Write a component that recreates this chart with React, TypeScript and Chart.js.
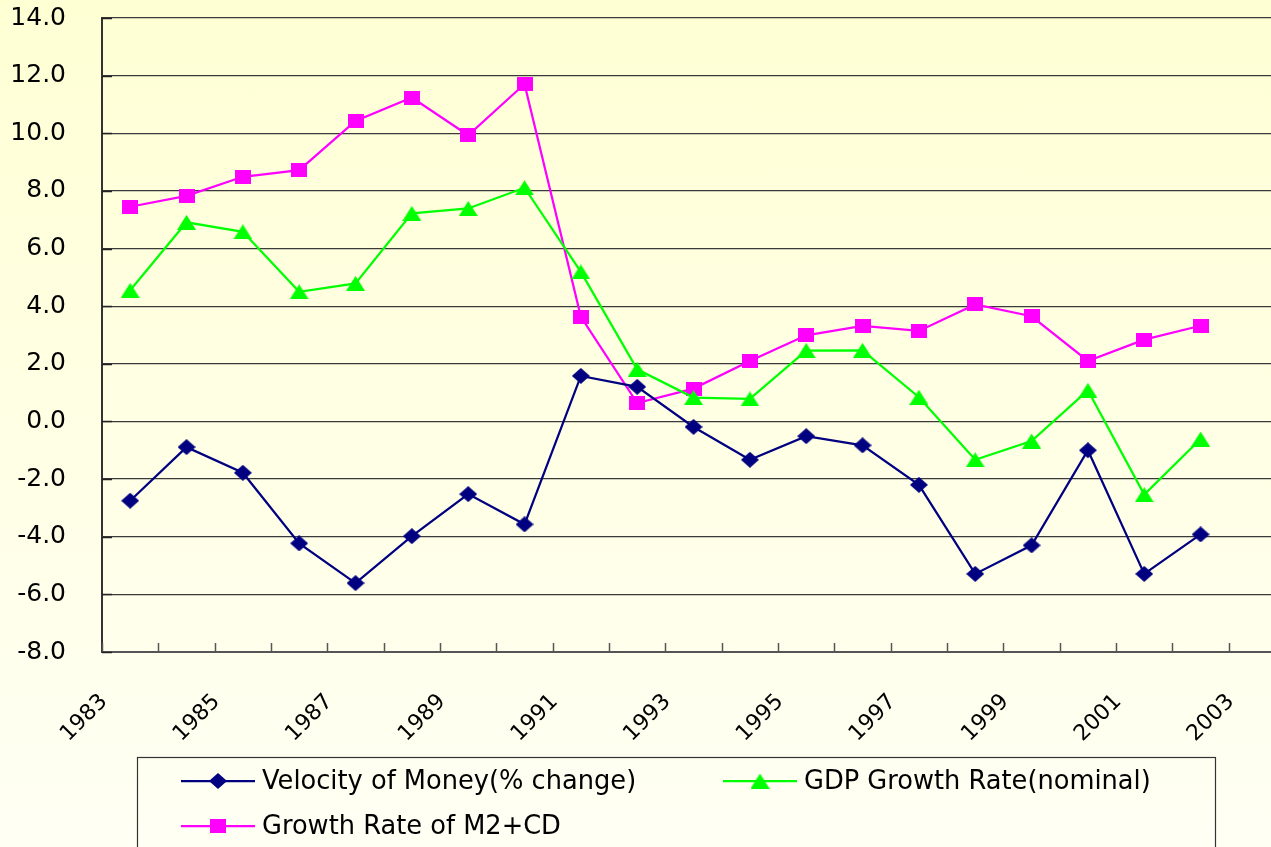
import React, { useEffect, useRef } from 'react';
import { Chart, registerables } from 'chart.js';

Chart.register(...registerables);

// ---- data ----
const years = [1983, 1984, 1985, 1986, 1987, 1988, 1989, 1990, 1991, 1992, 1993, 1994, 1995, 1996, 1997, 1998, 1999, 2000, 2001, 2002];
const velocity = [-2.75, -0.89, -1.78, -4.23, -5.61, -3.98, -2.52, -3.57, 1.58, 1.2, -0.19, -1.33, -0.51, -0.83, -2.2, -5.29, -4.3, -1.0, -5.29, -3.92];
const gdp = [4.55, 6.91, 6.58, 4.5, 4.79, 7.22, 7.39, 8.11, 5.19, 1.81, 0.83, 0.78, 2.46, 2.47, 0.84, -1.33, -0.68, 1.08, -2.54, -0.61];
const m2cd = [7.45, 7.83, 8.49, 8.72, 10.43, 11.24, 9.93, 11.71, 3.63, 0.64, 1.14, 2.1, 2.99, 3.32, 3.14, 4.06, 3.65, 2.1, 2.84, 3.32];
const xTickLabels = ['1983', '1985', '1987', '1989', '1991', '1993', '1995', '1997', '1999', '2001', '2003'];
const seriesNames = ['Velocity of Money(% change)', 'GDP Growth Rate(nominal)', 'Growth Rate of M2+CD'];
const seriesColors = ['#000080', '#00FF00', '#FF00FF'];

const FONT = '"DejaVu Sans", "Liberation Sans", Arial, sans-serif';

function makeMarker(kind: string, color: string): HTMLCanvasElement {
  const c = document.createElement('canvas');
  let w = 16, h = 14;
  if (kind === 'diamond') { w = 18; h = 16; }
  if (kind === 'triangle') { w = 19; h = 15; }
  c.width = w; c.height = h;
  const ctx = c.getContext('2d')!;
  ctx.fillStyle = color;
  ctx.beginPath();
  if (kind === 'diamond') {
    ctx.moveTo(w / 2, 0); ctx.lineTo(w, h / 2); ctx.lineTo(w / 2, h); ctx.lineTo(0, h / 2);
  } else if (kind === 'triangle') {
    ctx.moveTo(w / 2, 0); ctx.lineTo(w, h); ctx.lineTo(0, h);
  } else {
    ctx.rect(0, 0, w, h);
  }
  ctx.closePath();
  ctx.fill();
  return c;
}

const clearPadding = (s: any) => {
  s.paddingTop = 0;
  s.paddingBottom = 0;
  s.paddingLeft = 0;
  s.paddingRight = 0;
};

const innerTicks = {
  id: 'innerTicks',
  beforeDatasetsDraw(chart: any) {
    const { ctx, chartArea, scales } = chart;
    ctx.save();
    ctx.lineWidth = 1.5;
    ctx.strokeStyle = '#555';
    scales.x.ticks.forEach((t: any) => {
      const px = Math.round(scales.x.getPixelForValue(t.value)) + 0.5;
      ctx.beginPath();
      ctx.moveTo(px, chartArea.bottom);
      ctx.lineTo(px, chartArea.bottom - 9);
      ctx.stroke();
    });
    ctx.strokeStyle = '#222';
    scales.y.ticks.forEach((t: any) => {
      const py = Math.round(scales.y.getPixelForValue(t.value)) + 0.5;
      ctx.beginPath();
      ctx.moveTo(chartArea.left, py);
      ctx.lineTo(chartArea.left + 10, py);
      ctx.stroke();
    });
    ctx.restore();
  },
};

const boxLegend = {
  id: 'boxLegend',
  afterDraw(chart: any) {
    const ctx = chart.ctx;
    ctx.save();
    ctx.strokeStyle = '#333';
    ctx.lineWidth = 1.2;
    ctx.strokeRect(137.5, 757.5, 1078, 140);
    const slots = [[181, 781], [723, 781], [181, 826]];
    chart.data.datasets.forEach((ds: any, i: number) => {
      const [x, y] = slots[i];
      ctx.strokeStyle = ds.borderColor;
      ctx.lineWidth = 2.25;
      ctx.beginPath();
      ctx.moveTo(x, y);
      ctx.lineTo(x + 74, y);
      ctx.stroke();
      const m = ds.pointStyle as HTMLCanvasElement;
      ctx.drawImage(m, x + 37 - m.width / 2, y - m.height / 2);
      ctx.fillStyle = '#000';
      ctx.font = `25.7px ${FONT}`;
      ctx.textBaseline = 'middle';
      ctx.textAlign = 'left';
      ctx.fillText(ds.label, x + 81, y + 1);
    });
    ctx.restore();
  },
};

export default function App() {
  const ref = useRef<HTMLCanvasElement>(null);

  useEffect(() => {
    if (!ref.current) return;
    const markers = [
      makeMarker('diamond', seriesColors[0]),
      makeMarker('triangle', seriesColors[1]),
      makeMarker('square', seriesColors[2]),
    ];
    const series = [velocity, gdp, m2cd];
    const chart = new Chart(ref.current, {
      type: 'line',
      data: {
        datasets: series.map((vals, i) => ({
          label: seriesNames[i],
          data: years.map((yr, k) => ({ x: yr + 0.5, y: vals[k] })),
          borderColor: seriesColors[i],
          backgroundColor: seriesColors[i],
          borderWidth: 2.25,
          pointStyle: markers[i],
          pointRadius: 9,
          tension: 0,
          fill: false,
        })),
      },
      options: {
        animation: false,
        responsive: false,
        events: [],
        layout: { autoPadding: false, padding: { top: 18, left: 0, right: 0, bottom: 0 } },
        plugins: { legend: { display: false }, tooltip: { enabled: false } },
        scales: {
          x: {
            type: 'linear',
            min: 1983,
            max: 2003.75,
            grid: { display: false, drawTicks: false },
            border: { display: true, color: '#555', width: 2 },
            ticks: {
              stepSize: 1,
              autoSkip: false,
              includeBounds: false,
              minRotation: 45,
              maxRotation: 45,
              padding: 37,
              labelOffset: 2,
              color: '#000',
              font: { family: FONT, size: 22 },
              callback: (v: any) => (xTickLabels.includes(String(v)) ? String(v) : ''),
            },
            afterFit: (s: any) => { s.height = 195; clearPadding(s); },
          },
          y: {
            type: 'linear',
            min: -8,
            max: 14,
            grid: { color: '#3a3a3a', lineWidth: 1.2, drawTicks: false },
            border: { display: true, color: '#333', width: 2 },
            ticks: {
              stepSize: 2,
              padding: 36,
              color: '#000',
              font: { family: FONT, size: 25 },
              callback: (v: any) => Number(v).toFixed(1),
            },
            afterFit: (s: any) => { s.width = 102; clearPadding(s); },
          },
        },
      } as any,
      plugins: [innerTicks, boxLegend],
    });
    return () => chart.destroy();
  }, []);

  return (
    <div
      style={{
        position: 'fixed',
        left: 0,
        top: 0,
        width: 1271,
        height: 847,
        overflow: 'hidden',
        background: 'linear-gradient(to bottom, #FFFFD4 0%, #FFFFE6 55%, #FFFFF4 100%)',
      }}
    >
      <canvas ref={ref} width={1271} height={847} style={{ display: 'block', width: 1271, height: 847 }} />
    </div>
  );
}
